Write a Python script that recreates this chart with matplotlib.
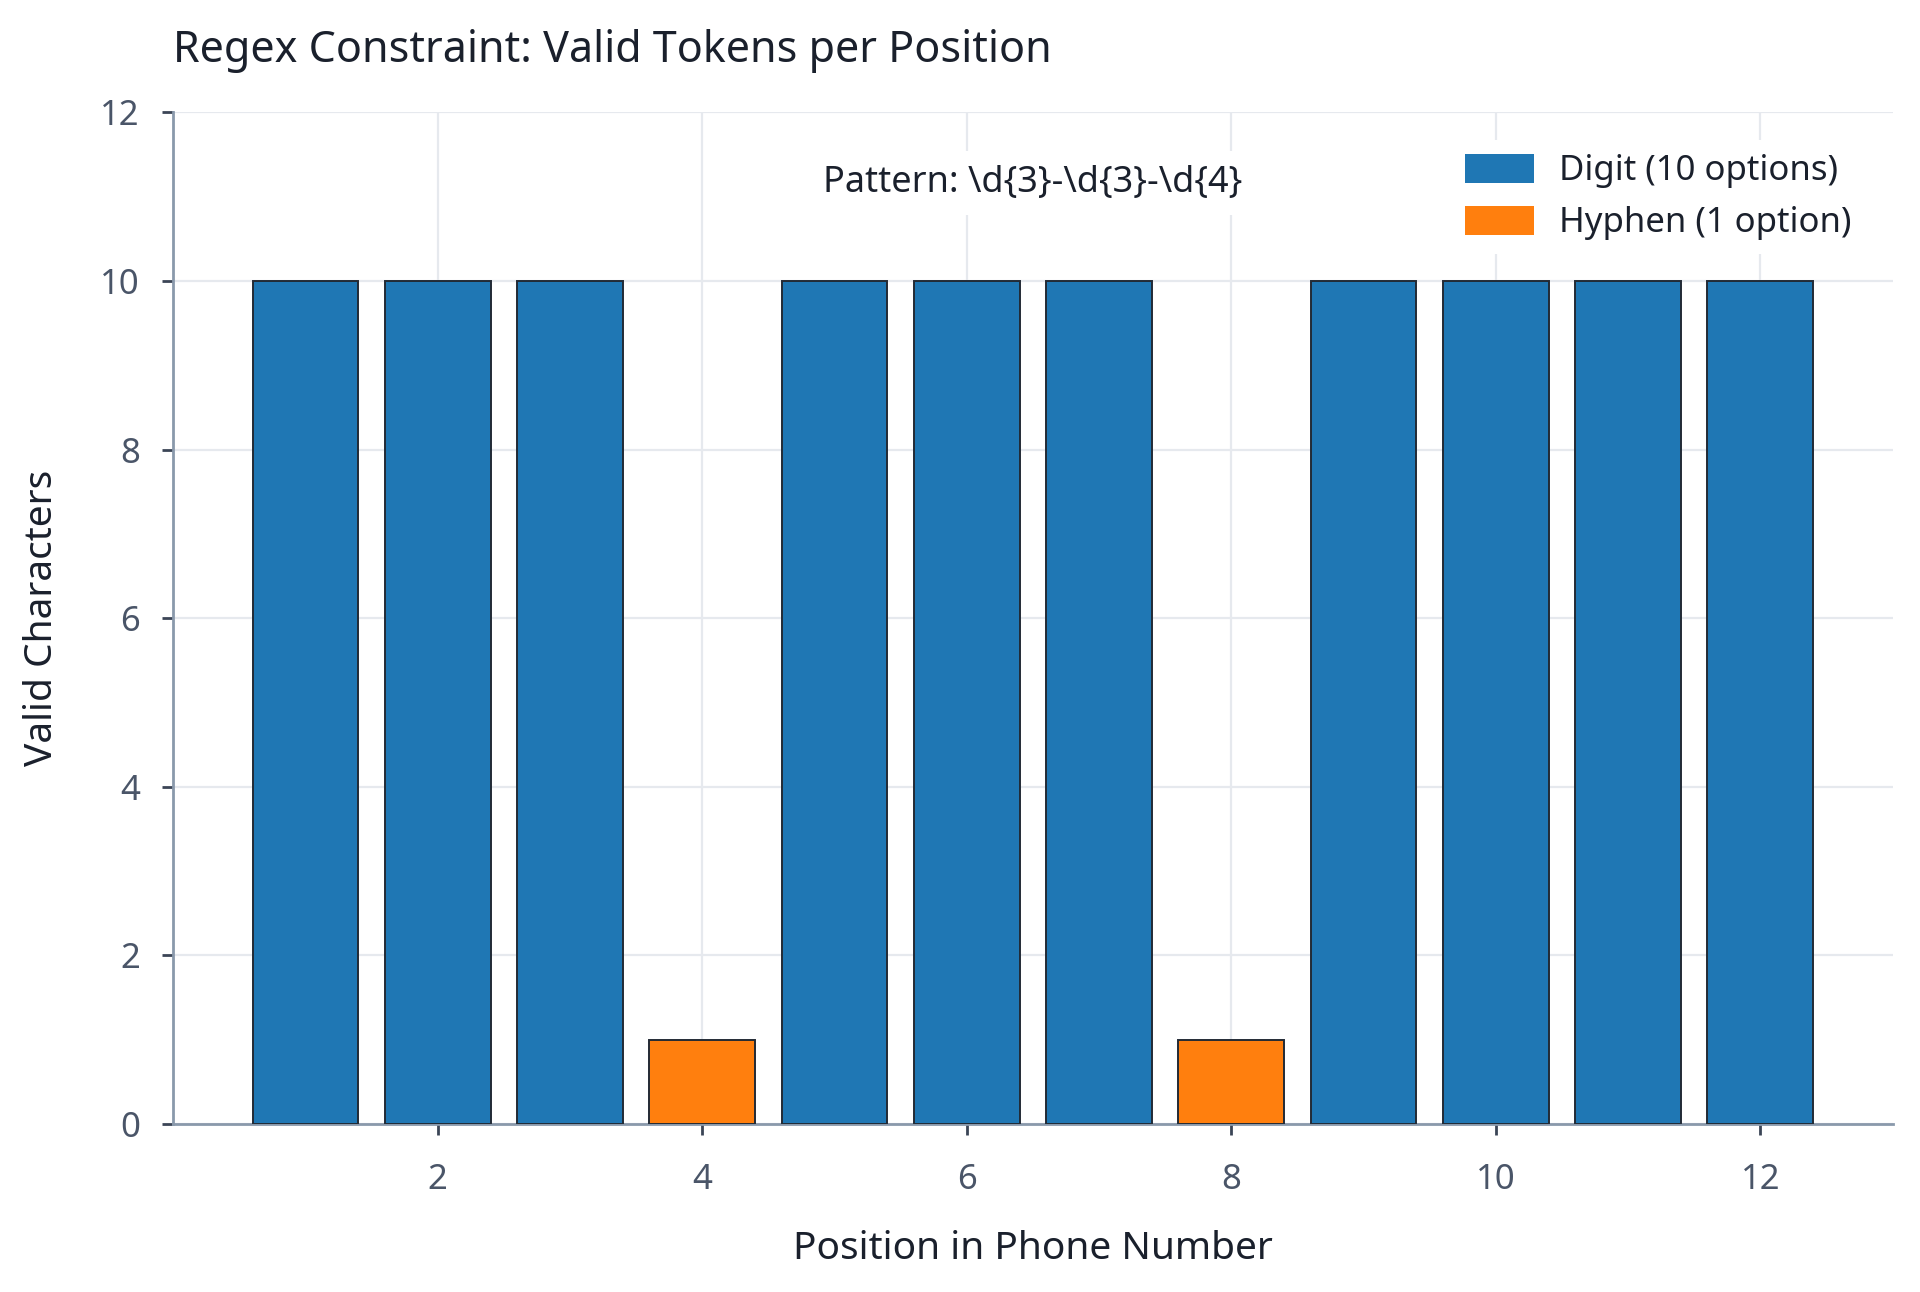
import matplotlib
matplotlib.use("Agg")
import matplotlib.pyplot as plt
from matplotlib.patches import Patch

# data
positions = list(range(1, 13))
valid_counts = [10, 10, 10, 1, 10, 10, 10, 1, 10, 10, 10, 10]
is_hyphen = [False, False, False, True, False, False, False, True, False, False, False, False]
pattern_text = r"Pattern: \d{3}-\d{3}-\d{4}"

digit_color = "#1f77b4"
hyphen_color = "#ff7f0e"
spine_color = "#8a99ab"
label_color = "#4a5568"
text_color = "#1a202c"

plt.rcParams["font.family"] = ["Noto Sans", "DejaVu Sans"]

fig = plt.figure(figsize=(9.6, 6.46), dpi=200)
ax = fig.add_axes([0.0902, 0.130, 0.8955, 0.7830])

colors = [hyphen_color if h else digit_color for h in is_hyphen]
ax.bar(positions, valid_counts, width=0.8, color=colors, edgecolor="#222a35", linewidth=0.7, zorder=3)

ax.set_xlim(0, 13)
ax.set_ylim(0, 12)
ax.set_xticks([2, 4, 6, 8, 10, 12])
ax.set_yticks([0, 2, 4, 6, 8, 10, 12])
ax.grid(True, color="#e6e9ee", linewidth=0.8, zorder=0)
ax.set_axisbelow(True)

for side in ["top", "right"]:
    ax.spines[side].set_visible(False)
for side in ["left", "bottom"]:
    ax.spines[side].set_color(spine_color)
    ax.spines[side].set_linewidth(1.0)

ax.tick_params(axis="both", colors="#3b4556", labelcolor=label_color, labelsize=12.5, length=4, width=1.0)
ax.tick_params(axis="x", pad=10)
ax.tick_params(axis="y", pad=8)

ax.set_title("Regex Constraint: Valid Tokens per Position", loc="left", fontsize=15.5, color=text_color, pad=18)
ax.set_xlabel("Position in Phone Number", fontsize=14, color=text_color, labelpad=12)
ax.set_ylabel("Valid Characters", fontsize=14, color=text_color, labelpad=14)

ax.text(0.5, 0.93, pattern_text, transform=ax.transAxes, ha="center", va="center",
        fontsize=13, color=text_color, zorder=4,
        bbox=dict(facecolor="white", edgecolor="none", pad=5))

handles = [Patch(facecolor=digit_color, label="Digit (10 options)"),
           Patch(facecolor=hyphen_color, label="Hyphen (1 option)")]
leg = ax.legend(handles=handles, loc="upper right", fontsize=12.5, frameon=True,
                framealpha=1.0, edgecolor="none", handlelength=2.0, handleheight=0.9,
                labelcolor=text_color, borderaxespad=0.8, handletextpad=0.7)

fig.savefig("out.png", dpi=200, facecolor="white")
